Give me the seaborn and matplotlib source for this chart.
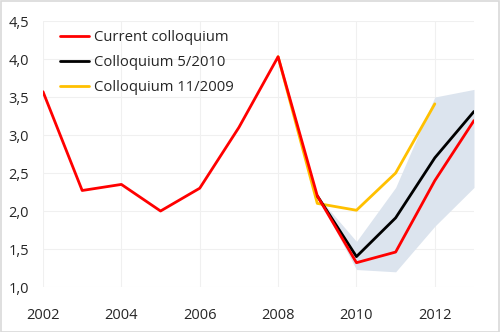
import numpy as np
import pandas as pd
import matplotlib
matplotlib.use("Agg")
import matplotlib.pyplot as plt
import seaborn as sns
from matplotlib.ticker import FuncFormatter

# data
years = [2002, 2003, 2004, 2005, 2006, 2007, 2008, 2009, 2010, 2011, 2012, 2013]
current = [3.57, 2.27, 2.35, 2.00, 2.30, 3.10, 4.03, 2.20, 1.32, 1.46, 2.40, 3.19]

years_may10 = [2009, 2010, 2011, 2012, 2013]
may10 = [2.20, 1.40, 1.91, 2.70, 3.31]

years_nov09 = [2008, 2009, 2010, 2011, 2012]
nov09 = [4.03, 2.10, 2.01, 2.50, 3.41]

years_band = [2009, 2010, 2011, 2012, 2013]
band_low = [2.20, 1.23, 1.20, 1.80, 2.31]
band_high = [2.20, 1.60, 2.31, 3.50, 3.60]

sns.set_theme(style="white")
plt.rcParams['font.family'] = ['Open Sans', 'DejaVu Sans']

fig = plt.figure(figsize=(5, 3.32), dpi=100)
ax = fig.add_axes([0.086, 0.1355, 0.862, 0.8012])

ax.fill_between(years_band, band_low, band_high, color='#dce4ee', lw=0, zorder=1)

df_cur = pd.DataFrame({'year': years, 'val': current})
df_may = pd.DataFrame({'year': years_may10, 'val': may10})
df_nov = pd.DataFrame({'year': years_nov09, 'val': nov09})

sns.lineplot(data=df_nov, x='year', y='val', color='#ffc000', lw=2, ax=ax, label='Colloquium 11/2009', zorder=3)
sns.lineplot(data=df_may, x='year', y='val', color='black', lw=2, ax=ax, label='Colloquium 5/2010', zorder=4)
sns.lineplot(data=df_cur, x='year', y='val', color='#ff0000', lw=2, ax=ax, label='Current colloquium', zorder=5)

ax.set_xlim(2002, 2013)
ax.set_ylim(1.0, 4.5)
ax.set_xticks([2002, 2004, 2006, 2008, 2010, 2012])
ax.set_yticks(np.arange(1.0, 4.51, 0.5))
ax.yaxis.set_major_formatter(FuncFormatter(lambda v, p: ('%.1f' % v).replace('.', ',')))
ax.tick_params(labelsize=10.5, length=0)
ax.tick_params(axis='x', pad=15)
ax.tick_params(axis='y', pad=10)
ax.set_xlabel('')
ax.set_ylabel('')
ax.grid(True, color='#f0f0f0', lw=0.8)
for s in ax.spines.values():
    s.set_visible(False)

h, l = ax.get_legend_handles_labels()
ax.legend(h[::-1], l[::-1], loc='upper left', bbox_to_anchor=(0.018, 1.0), frameon=False,
          fontsize=10.7, handlelength=2.0, handletextpad=0.3, labelspacing=0.68, borderaxespad=0.2)

fig.patches.append(plt.Rectangle((0.001, 0.001), 0.997, 0.996, transform=fig.transFigure,
                                 fill=False, edgecolor='#d9d9d9', lw=1.2))

fig.savefig('out.png', dpi=100)
